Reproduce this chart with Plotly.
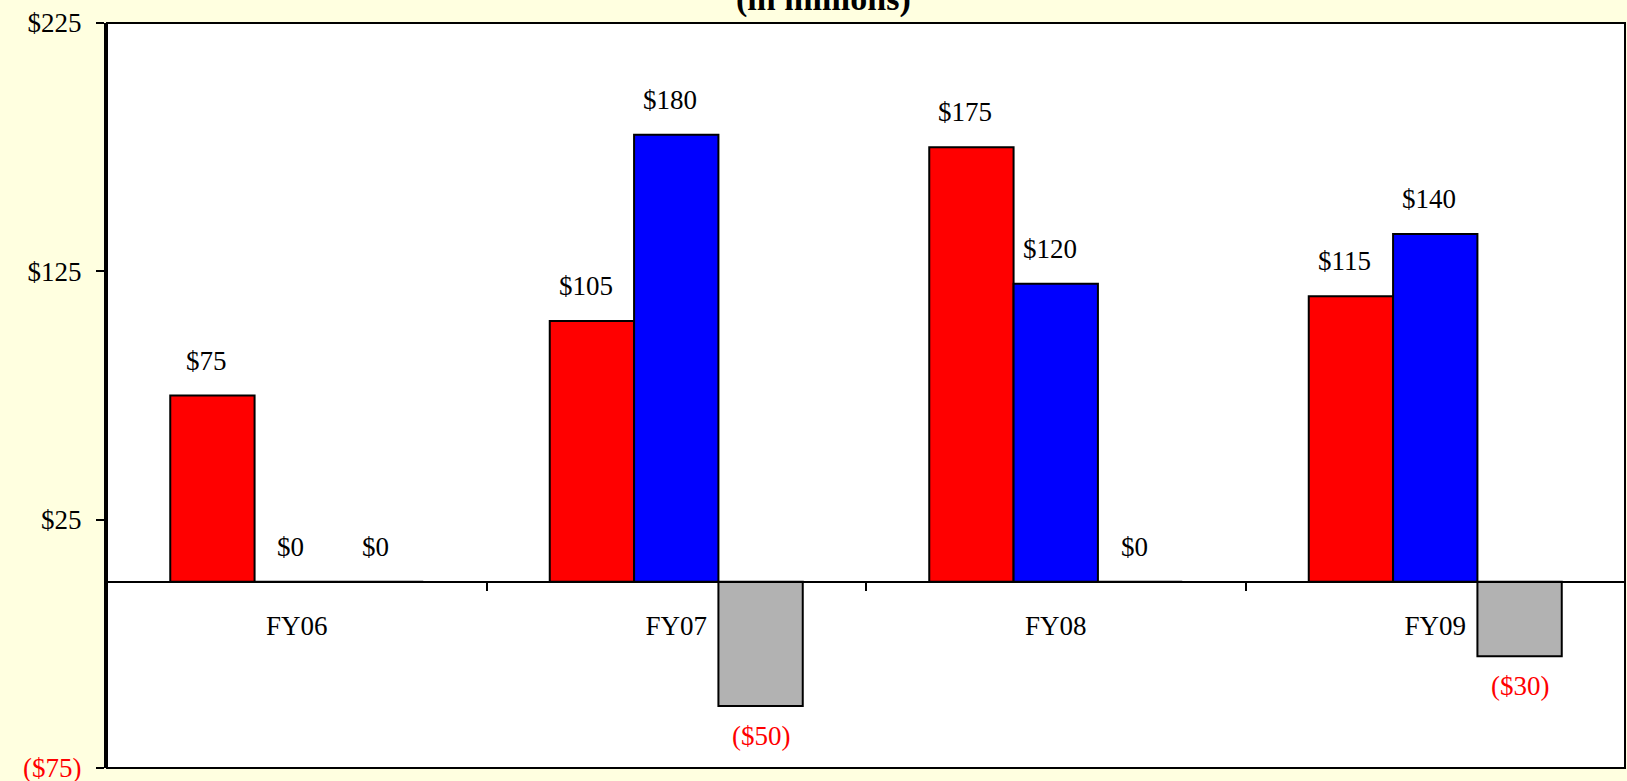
import plotly.graph_objects as go

# Fiscal-year figures, in millions of dollars
years = ["FY06", "FY07", "FY08", "FY09"]
red_series = [75, 105, 175, 115]
blue_series = [0, 180, 120, 140]
gray_series = [0, -50, 0, -30]

y_ticks = [-75, 25, 125, 225]
y_tick_text = ['<span style="color:#FF0000">($75)</span>', "$25", "$125", "$225"]

BARGAP = 1 / 3
SERIF = "Liberation Serif, Times New Roman, serif"
FS = 27


def money(v):
    return f"(${abs(v)})" if v < 0 else f"${v}"


fig = go.Figure()
series = [(red_series, "#FF0000"), (blue_series, "#0000FF"), (gray_series, "#B2B2B2")]
for vals, color in series:
    fig.add_trace(go.Bar(
        x=years, y=vals,
        marker=dict(color=color, line=dict(color="black", width=2)),
        showlegend=False,
    ))

# Value labels over (or under) each bar
bar_w = (1 - BARGAP) / len(series)
for k, (vals, _) in enumerate(series):
    off = (k - (len(series) - 1) / 2) * bar_w
    for i, v in enumerate(vals):
        neg = v < 0
        fig.add_annotation(
            x=i + off, y=v, xref="x", yref="y",
            text=money(v), showarrow=False,
            yanchor="middle",
            yshift=-30 if neg else 35,
            xshift=0 if neg else -6,
            font=dict(family=SERIF, size=FS, color="#FF0000" if neg else "black"),
        )

# Title, mostly above the top edge of the page
fig.add_annotation(
    x=0.5, y=1, xref="paper", yref="paper",
    text="<b>(in millions)</b>", showarrow=False,
    yanchor="bottom", yshift=3, xshift=-43,
    font=dict(family=SERIF, size=34, color="black"),
)

# Frame around the plotting area
fig.add_shape(type="rect", xref="paper", yref="paper", x0=0, x1=1, y0=0, y1=1,
              line=dict(color="black", width=2), layer="above")

fig.update_layout(
    width=1627, height=781,
    margin=dict(l=107, r=2, t=23, b=13),
    paper_bgcolor="#FFFFE0",
    plot_bgcolor="white",
    barmode="group",
    bargap=BARGAP,
    bargroupgap=0,
    font=dict(family=SERIF, size=FS, color="black"),
    xaxis=dict(
        type="category",
        range=[-0.5, 3.5],
        anchor="free", position=0.25,
        automargin=False,
        showline=True, linecolor="black", linewidth=2,
        ticks="outside", tickson="boundaries", ticklen=8, tickwidth=2, tickcolor="black",
        ticklabelstandoff=20,
        showgrid=False, zeroline=False,
        tickfont=dict(family=SERIF, size=FS, color="black"),
    ),
    yaxis=dict(
        range=[-75, 225],
        tickvals=y_ticks, ticktext=y_tick_text,
        automargin=False,
        showline=True, linecolor="black", linewidth=3,
        ticks="outside", ticklen=8, tickwidth=2, tickcolor="black",
        ticklabelstandoff=9,
        ticklabeloverflow="allow",
        showgrid=False, zeroline=False,
        tickfont=dict(family=SERIF, size=FS, color="black"),
    ),
)

fig.write_html("out.html")
